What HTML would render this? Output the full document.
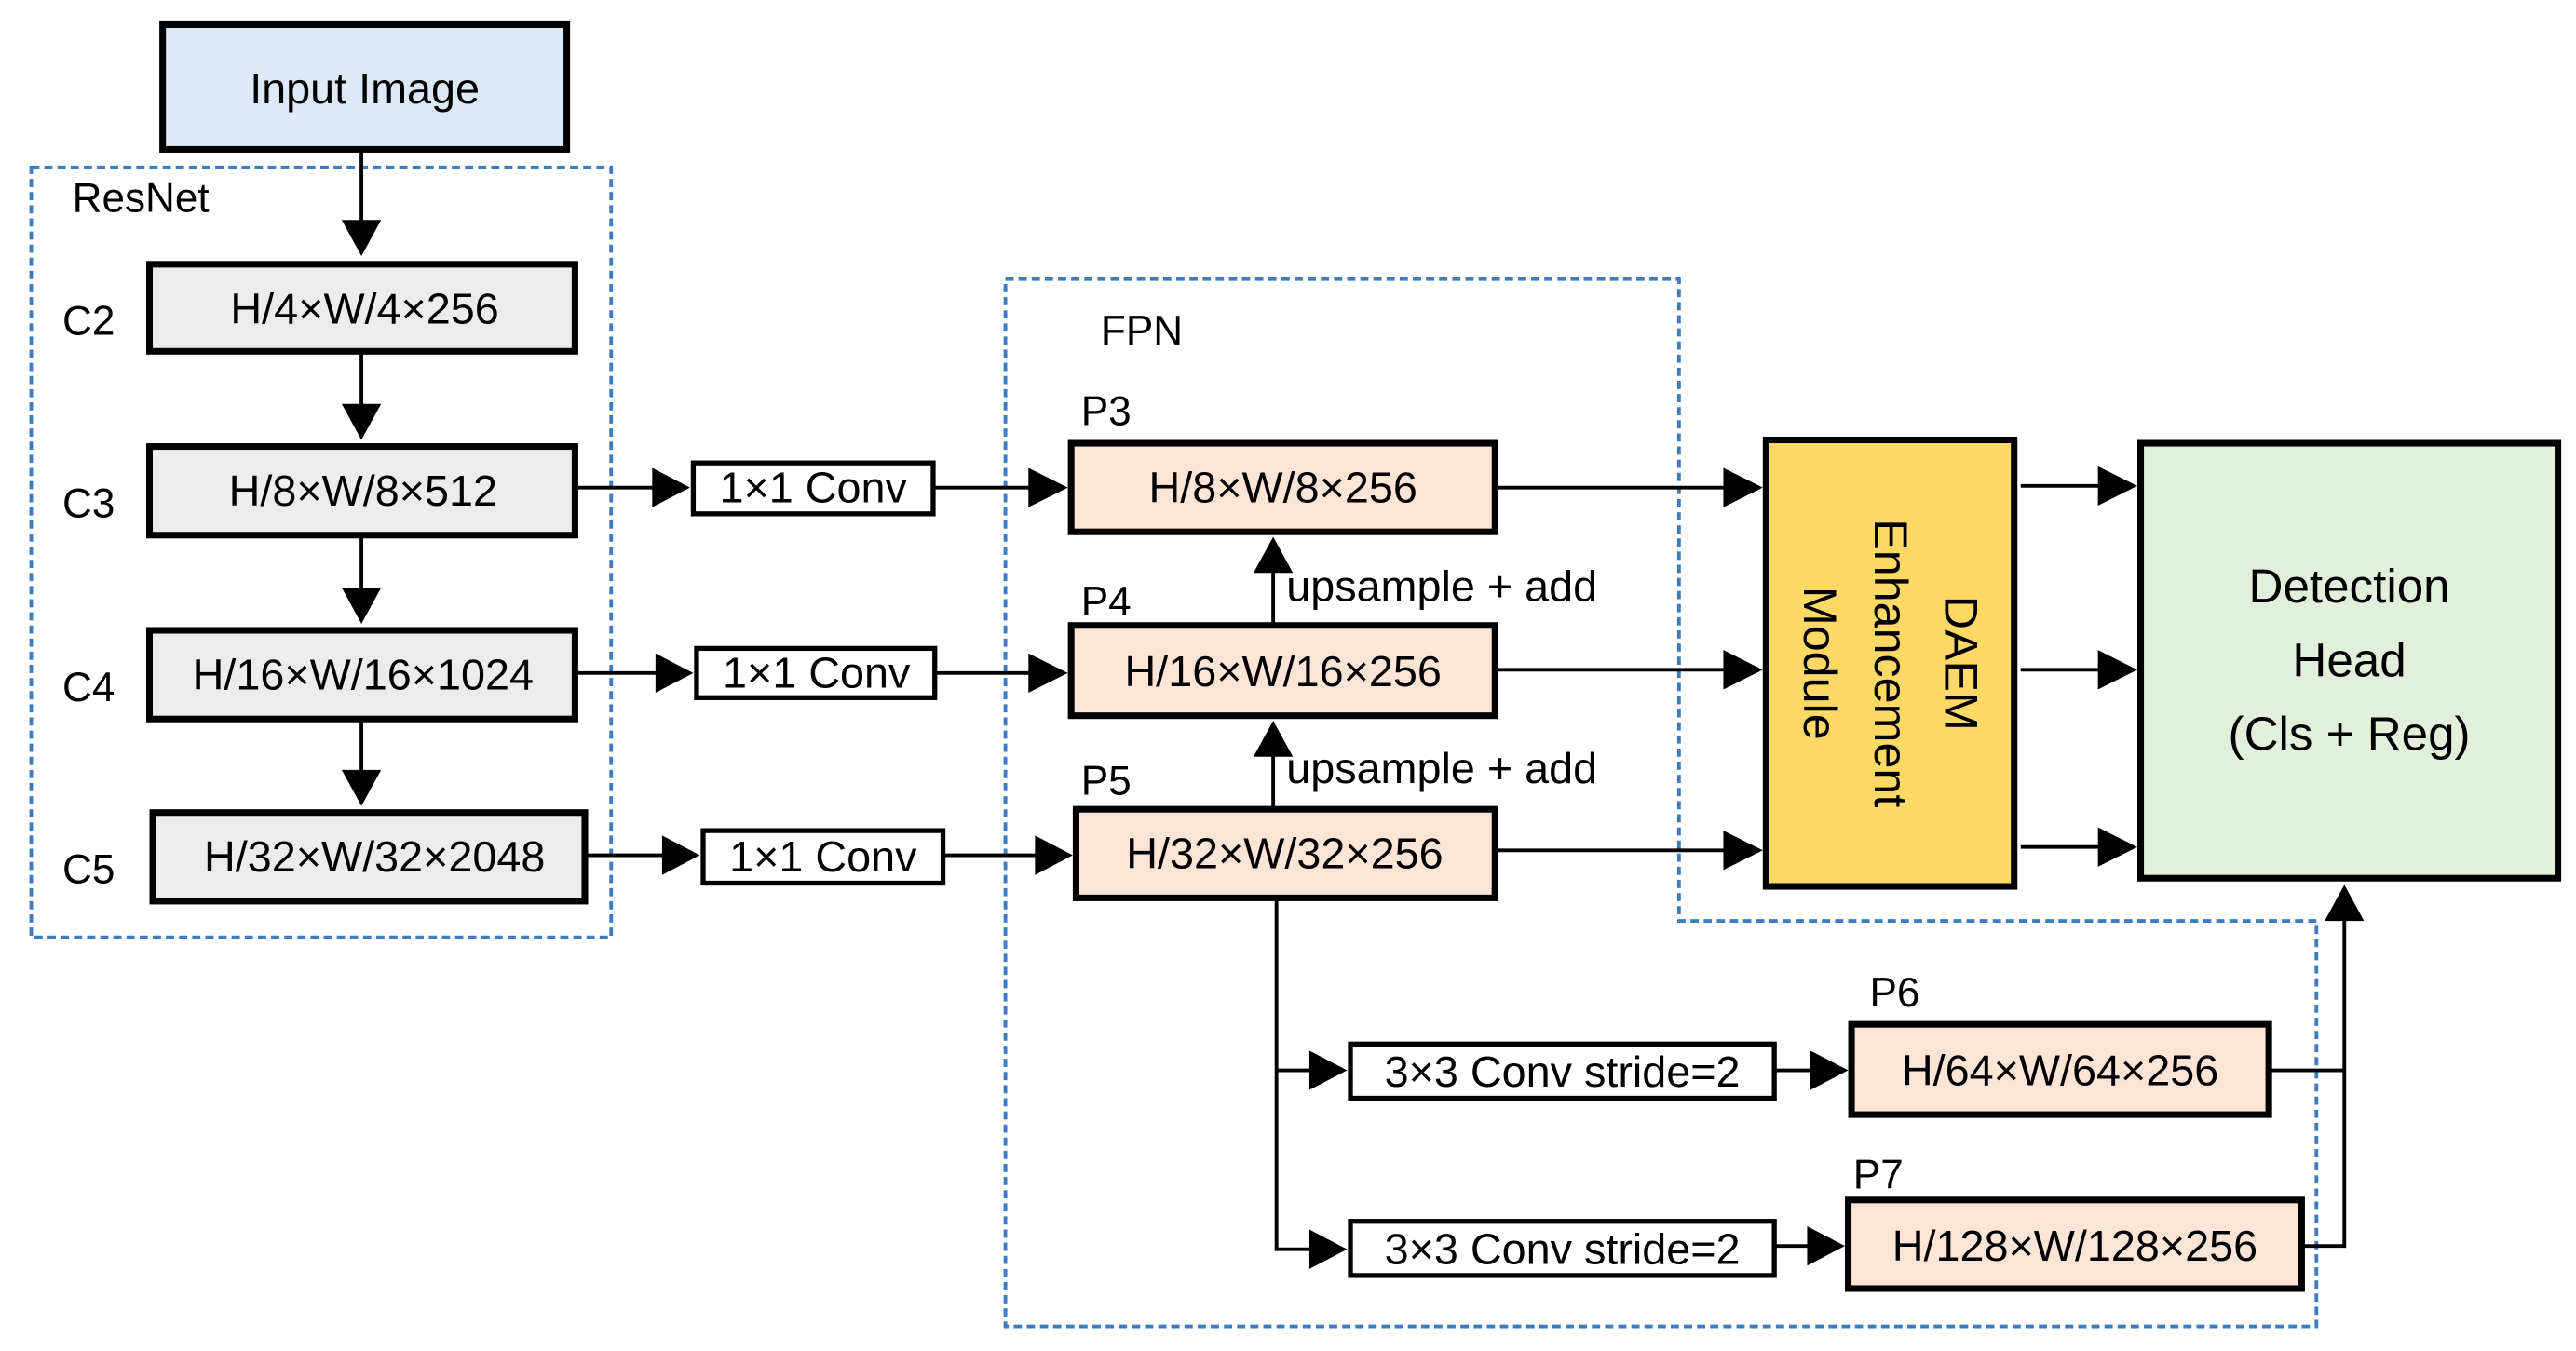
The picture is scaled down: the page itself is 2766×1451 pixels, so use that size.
<!DOCTYPE html>
<html><head><meta charset="utf-8"><style>
html,body{margin:0;padding:0;background:#fff;}
svg{display:block;}
text{font-family:"Liberation Sans",sans-serif;fill:#000;}
</style></head><body>
<svg width="2766" height="1451" viewBox="0 0 1568 823" preserveAspectRatio="none" xmlns="http://www.w3.org/2000/svg">
<g fill="none" stroke="#3d7cc0" stroke-width="2.2" stroke-dasharray="5,3">
<rect x="19" y="102" width="353" height="469"/>
<path d="M612 170 H1022 V561 H1410 V808 H612 Z"/>
</g>
<g stroke="#000" stroke-width="4">
<rect x="99" y="15" width="246" height="76" fill="#dbeaf6"/>
<rect x="91" y="161" width="259" height="53" fill="#ececec"/>
<rect x="91" y="272" width="259" height="54" fill="#ececec"/>
<rect x="91" y="384" width="259" height="54" fill="#ececec"/>
<rect x="93" y="495" width="263" height="54" fill="#ececec"/>
<rect x="652" y="270" width="258" height="54" fill="#fce4d6"/>
<rect x="652" y="381" width="258" height="55" fill="#fce4d6"/>
<rect x="655" y="493" width="255" height="54" fill="#fce4d6"/>
<rect x="1075" y="268" width="151" height="272" fill="#ffd966"/>
<rect x="1303" y="270" width="254" height="265" fill="#e2efda"/>
<rect x="1127" y="624" width="254" height="55" fill="#fce4d6"/>
<rect x="1125" y="731" width="276" height="54" fill="#fce4d6"/>
</g>
<g stroke="#000" stroke-width="3" fill="#fff">
<rect x="422" y="282" width="146" height="31"/>
<rect x="424" y="395" width="145" height="30"/>
<rect x="428" y="506" width="146" height="32"/>
<rect x="822" y="636" width="258" height="33"/>
<rect x="822" y="744" width="258" height="33"/>
</g>
<g stroke="#000" stroke-width="2.2" fill="none">
<path d="M220 91 V138 M220 214 V250 M220 326 V362 M220 438 V473"/>
<path d="M350 297 H400 M568 297 H630 M350 410 H402 M569 410 H630 M356 521 H406 M574 521 H634"/>
<path d="M775 493 V460 M775 381 V348"/>
<path d="M910 297 H1052 M910 408 H1052 M910 518 H1052"/>
<path d="M1230 296 H1280 M1230 408 H1280 M1230 516 H1280"/>
<path d="M777 547 V761 H800 M777 652 H800 M1080 652 H1105 M1080 759 H1103"/>
<path d="M1381 652 H1427 M1401 759 H1427 V560"/>
</g>
<g fill="#000">
<path d="M208 134 L232 134 L220 156Z"/><path d="M208 246 L232 246 L220 268Z"/>
<path d="M208 358 L232 358 L220 380Z"/><path d="M208 469 L232 469 L220 491Z"/>
<path d="M397 285 L420 297 L397 309Z"/><path d="M626 285 L650 297 L626 309Z"/>
<path d="M399 398 L422 410 L399 422Z"/><path d="M626 398 L650 410 L626 422Z"/>
<path d="M403 509 L426 521 L403 533Z"/><path d="M630 509 L653 521 L630 533Z"/>
<path d="M763 349 L787 349 L775 327Z"/><path d="M763 461 L787 461 L775 439Z"/>
<path d="M1049 285 L1073 297 L1049 309Z"/><path d="M1049 396 L1073 408 L1049 420Z"/><path d="M1049 506 L1073 518 L1049 530Z"/>
<path d="M1277 284 L1301 296 L1277 308Z"/><path d="M1277 396 L1301 408 L1277 420Z"/><path d="M1277 504 L1301 516 L1277 528Z"/>
<path d="M797 640 L820 652 L797 664Z"/><path d="M797 749 L820 761 L797 773Z"/>
<path d="M1102 640 L1125 652 L1102 664Z"/><path d="M1100 747 L1123 759 L1100 771Z"/>
<path d="M1415 561 L1439 561 L1427 539Z"/>
</g>
<g font-size="26.5" text-anchor="middle">
<text x="222" y="63">Input Image</text>
<text x="222" y="197">H/4×W/4×256</text>
<text x="221" y="308">H/8×W/8×512</text>
<text x="221" y="420">H/16×W/16×1024</text>
<text x="228" y="531">H/32×W/32×2048</text>
<text x="495" y="306">1×1 Conv</text>
<text x="497" y="419">1×1 Conv</text>
<text x="501" y="531">1×1 Conv</text>
<text x="781" y="306">H/8×W/8×256</text>
<text x="781" y="418">H/16×W/16×256</text>
<text x="782" y="529">H/32×W/32×256</text>
<text x="951" y="662">3×3 Conv stride=2</text>
<text x="951" y="770">3×3 Conv stride=2</text>
<text x="1254" y="661">H/64×W/64×256</text>
<text x="1263" y="768">H/128×W/128×256</text>
<text x="1430" y="367" font-size="29">Detection</text>
<text x="1430" y="412" font-size="29">Head</text>
<text x="1430" y="457" font-size="29">(Cls + Reg)</text>
</g>
<g font-size="25">
<text x="44" y="129">ResNet</text>
<text x="38" y="204">C2</text><text x="38" y="315">C3</text><text x="38" y="427">C4</text><text x="38" y="538">C5</text>
<text x="670" y="210">FPN</text>
<text x="658" y="259">P3</text><text x="658" y="375">P4</text><text x="658" y="484">P5</text>
<text x="1138" y="613">P6</text><text x="1128" y="724">P7</text>
<text x="783" y="366" font-size="26.5">upsample + add</text>
<text x="783" y="477" font-size="26.5">upsample + add</text>
</g>
<g font-size="28.5" text-anchor="middle" transform="translate(1150 404) rotate(90)">
<text x="0" y="-34">DAEM</text>
<text x="0" y="9">Enhancement</text>
<text x="0" y="52">Module</text>
</g>
</svg>
</body></html>
